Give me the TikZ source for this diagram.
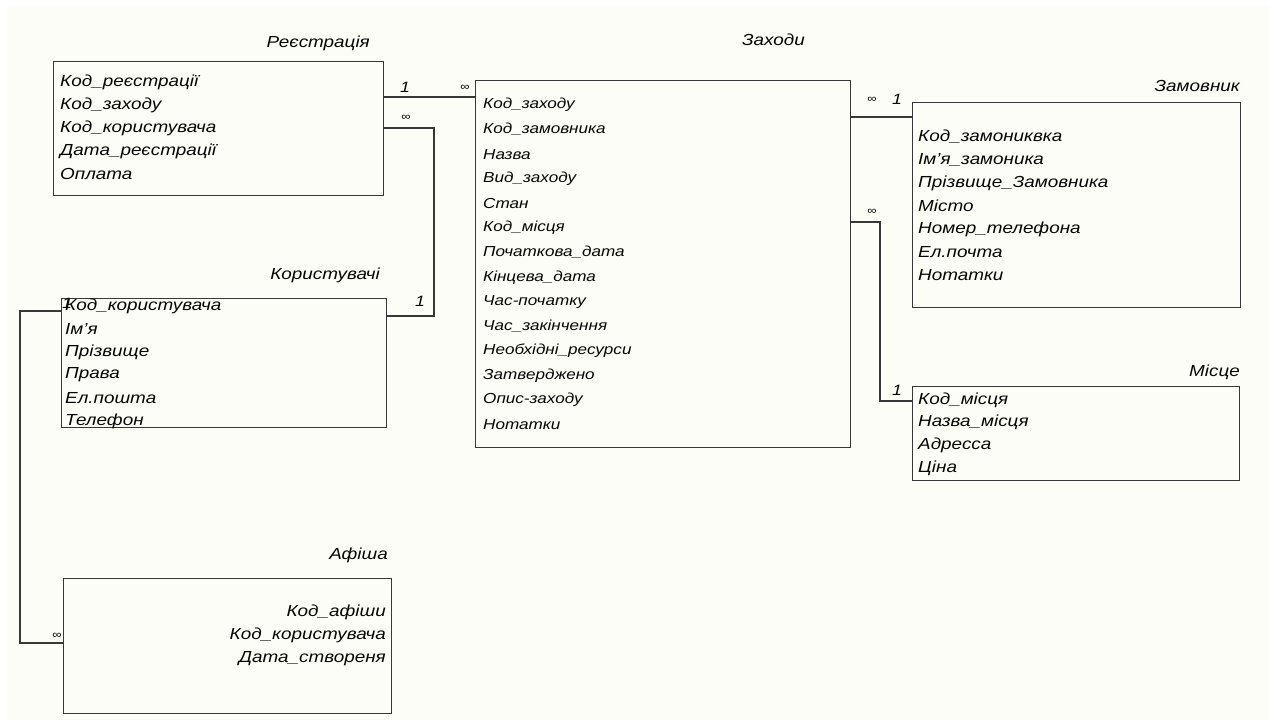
\documentclass[tikz,border=0pt]{standalone}
\usepackage{fontspec}
\setmainfont{Liberation Sans}[FakeStretch=1.18]
\definecolor{paper}{HTML}{FDFDF7}
\definecolor{rule}{HTML}{383838}
\definecolor{ink}{HTML}{050505}
\begin{document}
\begin{tikzpicture}[x=1pt,y=-1pt,
  tbl/.style={draw=rule, line width=1.2pt, fill=paper, inner sep=0pt, anchor=north west},
  caption/.style={anchor=east, inner sep=0pt, text=ink, font=\fontsize{16}{16}\selectfont\itshape},
  field/.style={anchor=west, inner sep=0pt, text=ink, font=\fontsize{16}{16}\selectfont\itshape},
  smallfield/.style={anchor=west, inner sep=0pt, text=ink, font=\fontsize{14.5}{14.5}\selectfont\itshape},
  rfield/.style={anchor=east, inner sep=0pt, text=ink, font=\fontsize{16}{16}\selectfont\itshape},
  link/.style={draw=rule, line width=1.3pt},
  one/.style={inner sep=0pt, text=ink, font=\fontsize{15}{15}\selectfont\itshape},
  many/.style={inner sep=0pt, text=ink, font=\fontsize{11}{11}\selectfont}
]
% page and paper area
\fill[white] (0,0) rectangle (1269,720);
\fill[paper] (7,6) rectangle (1269,720);
\useasboundingbox (0,0) rectangle (1269,720);

% ---- tables ----
\node[tbl, minimum width=330pt, minimum height=134pt] (reg) at (53,61) {};
\node[caption] (regT) at (370,43) {Реєстрація};
\foreach \t [count=\i] in {Код\_реєстрації, Код\_заходу, Код\_користувача, Дата\_реєстрації, Оплата}
  \node[field] (reg-\i) at (60,82+23*\i-23) {\t};

\node[tbl, minimum width=375pt, minimum height=367pt] (zah) at (475,80) {};
\node[caption] (zahT) at (805,40) {Заходи};
\foreach \t [count=\i] in {Код\_заходу, Код\_замовника, Назва, Вид\_заходу, Стан, Код\_місця,
  Початкова\_дата, Кінцева\_дата, Час-початку, Час\_закінчення, Необхідні\_ресурси,
  Затверджено, Опис-заходу, Нотатки}
  \node[smallfield] (zah-\i) at (483,105+24.6*\i-24.6) {\t};

\node[tbl, minimum width=328pt, minimum height=205pt] (zam) at (912,102) {};
\node[caption] (zamT) at (1240,86) {Замовник};
\foreach \t [count=\i] in {Код\_замониквка, Ім’я\_замоника, Прізвище\_Замовника, Місто,
  Номер\_телефона, Ел.почта, Нотатки}
  \node[field] (zam-\i) at (918,137+23*\i-23) {\t};

\node[tbl, minimum width=327pt, minimum height=94pt] (mis) at (912,386) {};
\node[caption] (misT) at (1240,372) {Місце};
\foreach \t [count=\i] in {Код\_місця, Назва\_місця, Адресса, Ціна}
  \node[field] (mis-\i) at (918,400+22.7*\i-22.7) {\t};

\node[tbl, minimum width=325pt, minimum height=129pt] (kor) at (61,298) {};
\node[caption] (korT) at (380,275) {Користувачі};
\foreach \t [count=\i] in {Код\_користувача, Ім’я, Прізвище, Права, Ел.пошта, Телефон}
  \node[field] (kor-\i) at (65,306+23*\i-23) {\t};

\node[tbl, minimum width=328pt, minimum height=135pt] (afi) at (63,578) {};
\node[caption] (afiT) at (388,555) {Афіша};
\foreach \t [count=\i] in {Код\_афіши, Код\_користувача, Дата\_створеня}
  \node[rfield] (afi-\i) at (386,612+23.5*\i-23.5) {\t};

% ---- relationship levels ----
\coordinate (yRZ) at (0,97);
\coordinate (yRK) at (0,128);
\coordinate (yKR) at (0,316);
\coordinate (xRK) at (434,0);
\coordinate (yZM) at (0,117);
\coordinate (yZS) at (0,222);
\coordinate (ySZ) at (0,401);
\coordinate (xZS) at (880,0);
\coordinate (yKA) at (0,311);
\coordinate (yAK) at (0,643);
\coordinate (xKA) at (20,0);

% ---- connectors ----
\draw[link] (reg.east |- yRZ) -- (zah.west |- yRZ);
\draw[link] (reg.east |- yRK) -| (xRK |- yKR) -- (kor.east |- yKR);
\draw[link] (zah.east |- yZM) -- (zam.west |- yZM);
\draw[link] (zah.east |- yZS) -| (xZS |- ySZ) -- (mis.west |- ySZ);
\draw[link] (kor.west |- yKA) -| (xKA |- yAK) -- (afi.west |- yAK);

% ---- cardinalities ----
\node[one]  (c1) at (405,87) {1};
\node[many] (c2) at (465,88) {∞};
\node[many] (c3) at (406,118) {∞};
\node[one]  (c4) at (420,301) {1};
\node[many] (c5) at (872,100) {∞};
\node[one]  (c6) at (897,99) {1};
\node[many] (c7) at (872,212) {∞};
\node[one]  (c8) at (897,390) {1};
\node[one]  (c9) at (67,303) {1};
\node[many] (c10) at (57,636) {∞};
\end{tikzpicture}
\end{document}
